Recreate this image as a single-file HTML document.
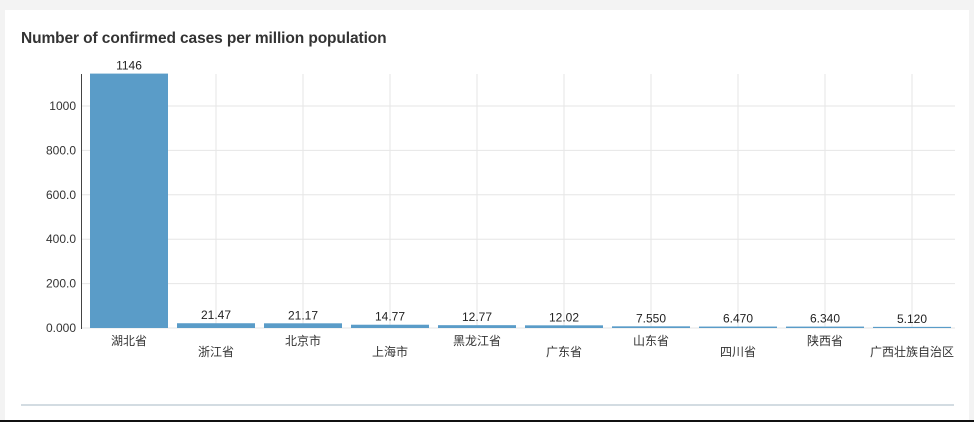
<!DOCTYPE html>
<html><head><meta charset="utf-8"><style>
body{margin:0;width:974px;height:422px;background:#f3f3f3;font-family:"Liberation Sans","Noto Sans CJK SC",sans-serif;overflow:hidden;position:relative}
#card{position:absolute;left:5px;top:10px;width:964px;height:410px;background:#fff}
#title{position:absolute;left:21px;top:30px;font-size:15.5px;font-weight:bold;color:#333;letter-spacing:-0.1px}
#sep{position:absolute;left:21px;top:404px;width:933px;height:2px;background:#d3dce2}
#bot{position:absolute;left:0;top:420px;width:974px;height:2px;background:#111}
</style></head><body>
<div id="card"></div>
<div id="title">Number of confirmed cases per million population</div>
<svg id="chart" width="974" height="422" style="position:absolute;left:0;top:0"></svg>
<div id="sep"></div>
<div id="bot"></div>
<script>
const categories=["湖北省","浙江省","北京市","上海市","黑龙江省","广东省","山东省","四川省","陕西省","广西壮族自治区"];
const values=[1146,21.47,21.17,14.77,12.77,12.02,7.550,6.470,6.340,5.120];
const valueLabels=["1146","21.47","21.17","14.77","12.77","12.02","7.550","6.470","6.340","5.120"];
const ticks=[0,200,400,600,800,1000];
const tickLabels=["0.000","200.0","400.0","600.0","800.0","1000"];
const NS="http://www.w3.org/2000/svg";
const svg=document.getElementById('chart');
const x0=85.5,band=87,y0=328,yMax=1146,yTop=73.6;
const y=v=>y0-(v/yMax)*(y0-yTop);
const xc=i=>x0+band*(i+0.5);
function mk(t,a){const e=document.createElementNS(NS,t);for(const k in a)e.setAttribute(k,a[k]);svg.appendChild(e);return e;}
ticks.forEach((t,i)=>{
  const g=mk('line',{x1:81,x2:955,y1:y(t),y2:y(t),stroke:'#e6e6e6','stroke-width':1});
  
  
  const l=mk('text',{x:76,y:y(t)+4,'text-anchor':'end','font-size':12,fill:'#333'});
  l.textContent=tickLabels[i];
  
  
});
categories.forEach((c,i)=>{
  const g=mk('line',{x1:xc(i),x2:xc(i),y1:74,y2:y0,stroke:'#e6e6e6','stroke-width':1});
  
  
});
categories.forEach((c,i)=>{
  const b=mk('rect',{x:xc(i)-39,y:y(values[i]),width:78,height:y0-y(values[i]),fill:'#5a9cc8'});
  
  
  const v=mk('text',{x:xc(i),y:y(values[i])-4,'text-anchor':'middle','font-size':12,fill:'#222'});
  v.textContent=valueLabels[i];
  
  
  const l=mk('text',{x:xc(i),y:(i%2?356:345),'text-anchor':'middle','font-size':12,fill:'#333'});
  l.textContent=c;
  
  
});
const ax=mk('line',{x1:81.5,x2:81.5,y1:74,y2:y0+1,stroke:'#444','stroke-width':1});


</script>
</body></html>
